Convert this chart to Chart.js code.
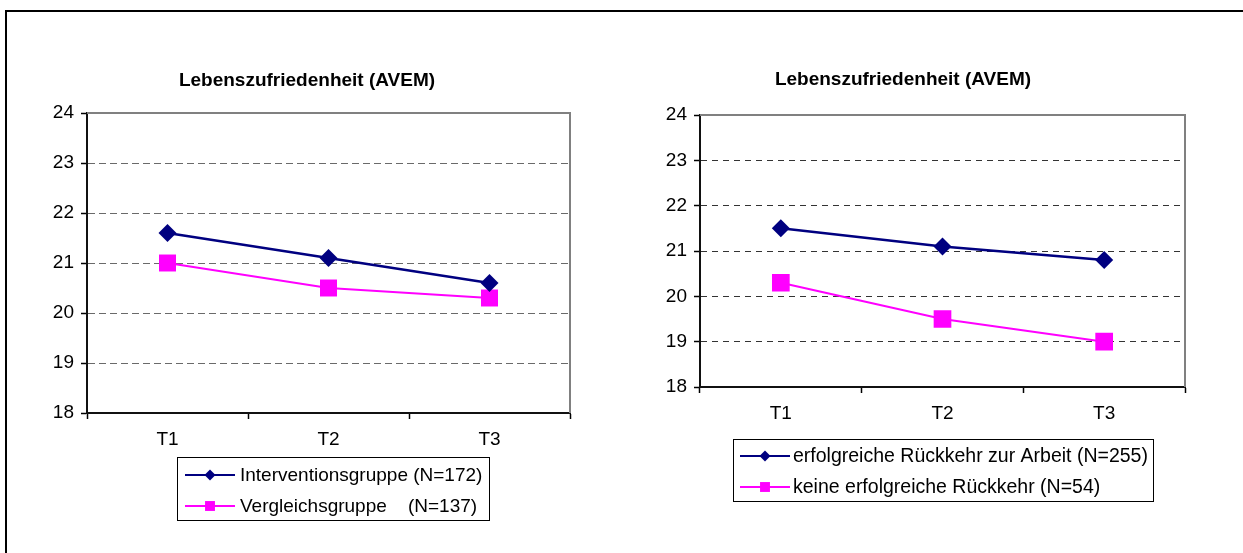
<!DOCTYPE html>
<html>
<head>
<meta charset="utf-8">
<script src="https://cdn.jsdelivr.net/npm/chart.js@4/dist/chart.umd.min.js"></script>
<style>
  html, body { margin: 0; padding: 0; background: #fff; overflow: hidden; }
  body { width: 1243px; height: 553px; position: relative; }
  #rahmen { position: absolute; left: 5px; top: 10px; width: 1300px; height: 600px; border: 2px solid #000; }
  canvas { position: absolute; top: 0; }
  #links { left: 0; }
  #rechts { left: 620px; }
</style>
</head>
<body>
<div id="rahmen"></div>
<canvas id="links" width="620" height="553"></canvas>
<canvas id="rechts" width="623" height="553"></canvas>
<script>
// Daten
const zeitpunkte = ['T1', 'T2', 'T3'];
const titel = 'Lebenszufriedenheit (AVEM)';

const labelsLinks = ['Interventionsgruppe (N=172)', 'Vergleichsgruppe    (N=137)'];
const interventionsgruppe = [21.6, 21.1, 20.6];
const vergleichsgruppe = [21.0, 20.5, 20.3];

const labelsRechts = ['erfolgreiche Rückkehr zur Arbeit (N=255)', 'keine erfolgreiche Rückkehr (N=54)'];
const rueckkehrJa = [21.5, 21.1, 20.8];
const rueckkehrNein = [20.3, 19.5, 19.0];

const yMin = 18, yMax = 24;

Chart.defaults.font.family = "'Liberation Sans', Arial, sans-serif";
Chart.defaults.font.size = 19;
Chart.defaults.color = '#000';

const NAVY = '#000080';
const MAGENTA = '#FF00FF';

// Titel, Rahmen oben/rechts und Legende im Excel-Stil
const excelDeko = {
  id: 'excelDeko',
  afterDraw(chart, args, opts) {
    const ctx = chart.ctx;
    const a = chart.chartArea;
    ctx.save();

    // Rahmen oben und rechts (grau)
    ctx.strokeStyle = '#808080';
    ctx.lineWidth = 2;
    ctx.beginPath();
    ctx.moveTo(a.left, a.top);
    ctx.lineTo(a.right, a.top);
    ctx.lineTo(a.right, a.bottom);
    ctx.stroke();

    // Titel
    ctx.fillStyle = '#000';
    ctx.font = "bold 19px 'Liberation Sans', Arial, sans-serif";
    ctx.textAlign = 'center';
    ctx.textBaseline = 'middle';
    ctx.fillText(opts.titel, opts.titelX, opts.titelY);

    // Legende
    const L = opts.legende;
    ctx.strokeStyle = '#000';
    ctx.lineWidth = 1;
    ctx.strokeRect(L.x + 0.5, L.y + 0.5, L.w, L.h);

    chart.data.datasets.forEach((ds, i) => {
      const y = L.zeilen[i];
      ctx.strokeStyle = ds.borderColor;
      ctx.lineWidth = 2;
      ctx.beginPath();
      ctx.moveTo(L.linieVon, y);
      ctx.lineTo(L.linieBis, y);
      ctx.stroke();

      ctx.fillStyle = ds.backgroundColor;
      ctx.strokeStyle = ds.borderColor;
      Chart.helpers.drawPoint(ctx, {
        pointStyle: ds.pointStyle,
        radius: ds.pointStyle === 'rect' ? 7 : 5.5,
        borderWidth: 0,
        rotation: 0
      }, (L.linieVon + L.linieBis) / 2, y);

      ctx.fillStyle = '#000';
      ctx.font = L.schrift;
      ctx.textAlign = 'left';
      ctx.textBaseline = 'middle';
      ctx.fillText(ds.label, L.textX, y + 1);
    });

    ctx.restore();
  }
};

function datensatz(label, werte, farbe, stil, radius, breite) {
  return {
    label: label,
    data: werte,
    borderColor: farbe,
    backgroundColor: farbe,
    borderWidth: breite,
    pointStyle: stil,
    pointRadius: radius,
    pointBorderWidth: 0,
    pointHoverRadius: radius,
    tension: 0
  };
}

function zeichneDiagramm(id, datasets, lay) {
  const ctx = document.getElementById(id);
  if (!ctx) {
    console.warn("Canvas nicht gefunden:", id);
    return;
  }

  new Chart(ctx, {
    type: 'line',
    data: { labels: zeitpunkte, datasets: datasets },
    plugins: [excelDeko],
    options: {
      responsive: false,
      animation: false,
      devicePixelRatio: 1,
      layout: { padding: lay.padding },
      scales: {
        x: {
          offset: true,
          grid: {
            offset: true,
            drawOnChartArea: false,
            drawTicks: true,
            tickLength: 6,
            tickColor: '#000',
            tickWidth: 1.5
          },
          border: { display: true, color: '#111', width: 2 },
          ticks: { padding: 9, maxRotation: 0, font: { size: 19 } },
          afterFit(scale) { scale.height = lay.xHoehe; }
        },
        y: {
          min: yMin,
          max: yMax,
          grid: {
            color: lay.gitterFarbe,
            lineWidth: 1,
            drawTicks: true,
            tickLength: 6,
            tickColor: '#000',
            tickWidth: 1.5,
            tickBorderDash: []
          },
          border: { display: true, color: '#111', width: 2, dash: lay.gitterStrich },
          ticks: { stepSize: 1, padding: 7, font: { size: 19 } },
          afterFit(scale) { scale.width = lay.yBreite; }
        }
      },
      plugins: {
        legend: { display: false },
        title: { display: false },
        tooltip: { enabled: false },
        excelDeko: {
          titel: titel,
          titelX: lay.titelX,
          titelY: lay.titelY,
          legende: lay.legende
        }
      }
    }
  });
}

// linkes Diagramm: Plot 87..570 / 113..413
zeichneDiagramm('links', [
  datensatz(labelsLinks[0], interventionsgruppe, NAVY, 'rectRot', 9, 2.5),
  datensatz(labelsLinks[1], vergleichsgruppe, MAGENTA, 'rect', 12, 2)
], {
  padding: { left: 37, right: 50, top: 113, bottom: 553 - 413 - 45 },
  yBreite: 50,
  xHoehe: 45,
  gitterFarbe: '#6a6a6a',
  gitterStrich: [7, 4],
  titelX: 307,
  titelY: 81,
  legende: { x: 177, y: 457, w: 312, h: 63, zeilen: [475, 506], linieVon: 185, linieBis: 235, textX: 240,
             schrift: "19px 'Liberation Sans', Arial, sans-serif" }
});

// rechtes Diagramm (Canvas beginnt bei x=620): Plot 700..1185 / 115..387
zeichneDiagramm('rechts', [
  datensatz(labelsRechts[0], rueckkehrJa, NAVY, 'rectRot', 9, 2.5),
  datensatz(labelsRechts[1], rueckkehrNein, MAGENTA, 'rect', 12.5, 2)
], {
  padding: { left: 30, right: 623 - 565, top: 115, bottom: 553 - 387 - 45 },
  yBreite: 50,
  xHoehe: 45,
  gitterFarbe: '#333',
  gitterStrich: [6, 5],
  titelX: 903 - 620,
  titelY: 80,
  legende: { x: 733 - 620, y: 439, w: 420, h: 62, zeilen: [456, 487], linieVon: 740 - 620, linieBis: 790 - 620, textX: 793 - 620,
             schrift: "19.5px 'Liberation Sans', Arial, sans-serif" }
});
</script>
</body>
</html>
